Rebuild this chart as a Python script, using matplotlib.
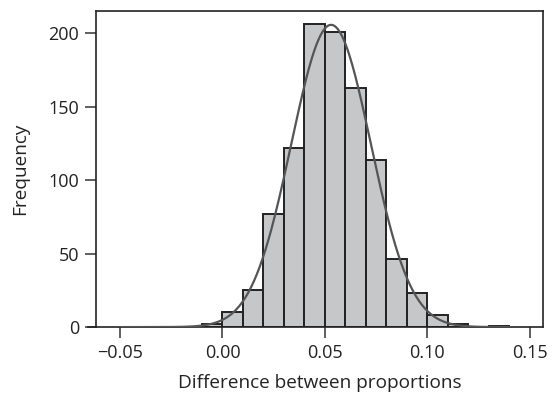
import numpy as np
import matplotlib
matplotlib.use('Agg')
import matplotlib.pyplot as plt

plt.rcParams['font.family'] = ['Open Sans', 'DejaVu Sans']

# histogram bins (width 0.01) and counts
bin_edges = [-0.01, 0.00, 0.01, 0.02, 0.03, 0.04, 0.05, 0.06, 0.07,
             0.08, 0.09, 0.10, 0.11, 0.12, 0.13, 0.14]
counts = [2, 10, 25, 77, 122, 206, 201, 163, 114, 46, 23, 8, 2, 0, 1]

# fitted normal curve
fit_mean = 0.053
fit_sd = 0.0194
n_total = sum(counts)
bin_width = 0.01

fig = plt.figure(figsize=(5.55, 3.96), dpi=100)
ax = fig.add_axes([0.173, 0.174, 0.805, 0.798])

lefts = bin_edges[:-1]
ax.bar(lefts, counts, width=bin_width, align='edge', color='#c6c7c9',
       edgecolor='#222222', linewidth=1.4, zorder=2)

xs = np.linspace(-0.05, 0.14, 400)
ys = n_total * bin_width / (np.sqrt(2 * np.pi) * fit_sd) * np.exp(-0.5 * ((xs - fit_mean) / fit_sd) ** 2)
ax.plot(xs, ys, color='#555555', linewidth=1.6, zorder=3)

ax.set_xlim(-0.0617, 0.1563)
ax.set_ylim(0, 215)
ax.set_xticks([-0.05, 0.00, 0.05, 0.10, 0.15])
ax.set_xticklabels(['\u22120.05', '0.00', '0.05', '0.10', '0.15'])
ax.set_yticks([0, 50, 100, 150, 200])

for s in ax.spines.values():
    s.set_linewidth(1.2)
    s.set_color('#222222')
ax.tick_params(direction='out', length=8, width=1.2, color='#444444',
               labelsize=13, labelcolor='#222222', pad=4)

# small extension of the baseline to the left of the frame
ax.plot([-0.018, 0], [0, 0], transform=ax.transAxes, color='#222222',
        linewidth=1.2, clip_on=False)

ax.set_xlabel('Difference between proportions', fontsize=13.7, color='#222222', labelpad=9)
ax.set_ylabel('Frequency', fontsize=13.7, color='#222222', labelpad=14)

fig.savefig('out.png', dpi=100)
